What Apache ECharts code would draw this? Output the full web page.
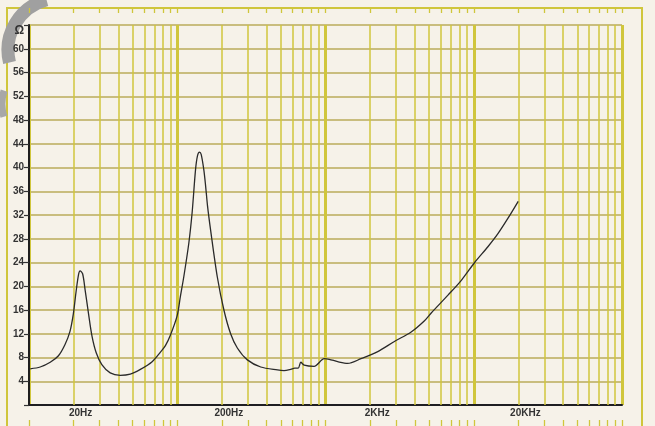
<!DOCTYPE html>
<html><head><meta charset="utf-8">
<script src="https://cdn.jsdelivr.net/npm/echarts@6/dist/echarts.min.js"></script>
<style>html,body{margin:0;padding:0;background:#f6f2e9;}#c{width:655px;height:426px;}</style>
</head><body><div id="c"></div>
<script>
// Impedance curve (Hz, ohm)
const freqHz = [10.2, 11.9, 13.9, 15.8, 17.5, 18.9, 19.9, 20.8, 21.6, 22.1, 23.0, 23.9, 25.2, 26.6, 28.4, 31.0, 35.3, 41.3, 48.2, 56.4, 67.7, 77.0, 83.2, 90.0, 99.8, 105, 110.7, 119.6, 126.1, 132.8, 137, 141.3, 145, 151.1, 155.2, 160.1, 167.8, 186.2, 206.4, 229.1, 254.3, 297.1, 365.6, 474, 525, 583, 620, 654, 682, 718, 838, 980, 1059, 1208, 1411, 1736, 2252, 2916, 3782, 4654, 5166, 6701, 8245, 10141, 12499, 14601, 17068, 19945];
const impedance = [6.1, 6.4, 7.2, 8.3, 10.2, 12.4, 15.3, 19.2, 22.0, 22.6, 22.1, 19.4, 15.4, 11.6, 8.8, 6.8, 5.4, 5.0, 5.2, 6.0, 7.3, 8.9, 10.0, 11.8, 15.0, 18.3, 21.6, 27.2, 32.5, 39.6, 42.0, 42.6, 42.2, 39.6, 37.0, 33.5, 29.5, 21.6, 16.0, 12.0, 9.6, 7.6, 6.4, 5.9, 5.8, 6.0, 6.2, 6.2, 7.2, 6.7, 6.5, 7.8, 7.7, 7.3, 7.0, 7.8, 9.0, 10.7, 12.3, 14.2, 15.5, 18.5, 21.0, 24.0, 26.7, 28.9, 31.5, 34.3];

// log paper: lines at 2..9 x each decade
const decadeStarts = [10, 100, 1000, 10000];
const gridMultipliers = [2, 3, 4, 5, 6, 7, 8, 9];
const decadeLines = [10, 100, 1000, 10000, 100000];
const labelFreqs = [20, 200, 2000, 20000];
const labelTexts = ['20Hz', '200Hz', '2KHz', '20KHz'];
const xMin = 10, xMax = 100000;
const yMin = 0, yMax = 64, yStep = 4;
const unitLabel = 'Ω';

const YEL = '#d0c63c';
const HGRID = '#c9bd7e';
const INK = '#333333';

const minorFreqs = [];
decadeStarts.forEach(d => gridMultipliers.forEach(m => minorFreqs.push(d * m)));
const allLineFreqs = decadeLines.concat(minorFreqs);

const gridLineData = minorFreqs.map(f => {
  const li = labelFreqs.indexOf(f);
  const item = { xAxis: f, lineStyle: { color: YEL, width: 1.5, type: 'solid' } };
  item.label = li >= 0
    ? { show: true, position: 'start', distance: 3, formatter: labelTexts[li], color: INK, fontSize: 10, fontWeight: 'bold', fontFamily: 'Liberation Sans, Arial, sans-serif', padding: [0, 0, 0, 14] }
    : { show: false };
  return item;
});

// frame ticks (decorative, in a frame-sized grid whose y axis counts pixels from bottom)
const frameTicks = [];
allLineFreqs.forEach(f => {
  frameTicks.push([{ coord: [f, 418] }, { coord: [f, 413] }]);
  frameTicks.push([{ coord: [f, 6] }, { coord: [f, 0] }]);
});

const chart = echarts.init(document.getElementById('c'), null, { renderer: 'canvas' });
chart.setOption({
  animation: false,
  backgroundColor: '#f6f2e9',
  textStyle: { fontFamily: 'Liberation Sans, Arial, sans-serif' },
  graphic: [
    { type: 'rect', shape: { x: 7, y: 8, width: 635, height: 440 }, style: { fill: null, stroke: YEL, lineWidth: 2 }, z: 0, silent: true },
    { type: 'arc', shape: { cx: 60, cy: 50, r: 52, startAngle: 2.9, endAngle: 4.45, clockwise: true }, style: { fill: null, stroke: '#a0a0a0', lineWidth: 13 }, z: 0, silent: true },
    { type: 'arc', shape: { cx: 46, cy: 104, r: 44, startAngle: 2.85, endAngle: 3.45, clockwise: true }, style: { fill: null, stroke: '#a8a8a8', lineWidth: 7 }, z: 0, silent: true }
  ],
  grid: [
    { left: 29, right: 33, top: 25, bottom: 21, show: false },
    { left: 29, right: 33, top: 0, bottom: 0, show: false }
  ],
  xAxis: [
    { type: 'log', logBase: 10, min: xMin, max: xMax, gridIndex: 0,
      axisLine: { show: true, lineStyle: { color: '#1e1e22', width: 2 } },
      axisTick: { show: false }, axisLabel: { show: false },
      splitLine: { show: true, lineStyle: { color: YEL, width: 3 } }, minorTick: { show: false } },
    { type: 'log', logBase: 10, min: xMin, max: xMax, gridIndex: 1, show: false }
  ],
  yAxis: [
    { type: 'value', min: yMin, max: yMax, interval: yStep, gridIndex: 0,
      axisLine: { show: true, lineStyle: { color: '#1e1e1e', width: 2 } },
      axisTick: { show: true, length: 5, lineStyle: { color: INK, width: 1.2 } },
      axisLabel: { margin: 5, color: INK, fontSize: 10, fontWeight: 'bold',
        formatter: v => v === yMin ? '' : (v === yMax ? '{o|' + unitLabel + '}' : String(v)),
        rich: { o: { fontSize: 12, fontWeight: 'bold', color: INK, padding: [12, 0, 0, 0] } } },
      splitLine: { show: true, lineStyle: { color: HGRID, width: 2 } } },
    { type: 'value', min: 0, max: 426, gridIndex: 1, show: false }
  ],
  series: [
    { type: 'line', xAxisIndex: 0, yAxisIndex: 0, data: [], silent: true, z: 1,
      markLine: { silent: true, symbol: 'none', z: 1, animation: false, data: gridLineData } },
    { type: 'line', xAxisIndex: 1, yAxisIndex: 1, data: [], silent: true, z: 1,
      markLine: { silent: true, symbol: 'none', z: 1, animation: false, label: { show: false },
        lineStyle: { color: YEL, width: 1.3, type: 'solid' }, data: frameTicks } },
    { type: 'line', xAxisIndex: 0, yAxisIndex: 0, z: 6,
      data: freqHz.map((f, i) => [f, impedance[i]]),
      showSymbol: false, smooth: 0.3,
      lineStyle: { color: '#2a2a2a', width: 1.3 } }
  ]
});
</script></body></html>
